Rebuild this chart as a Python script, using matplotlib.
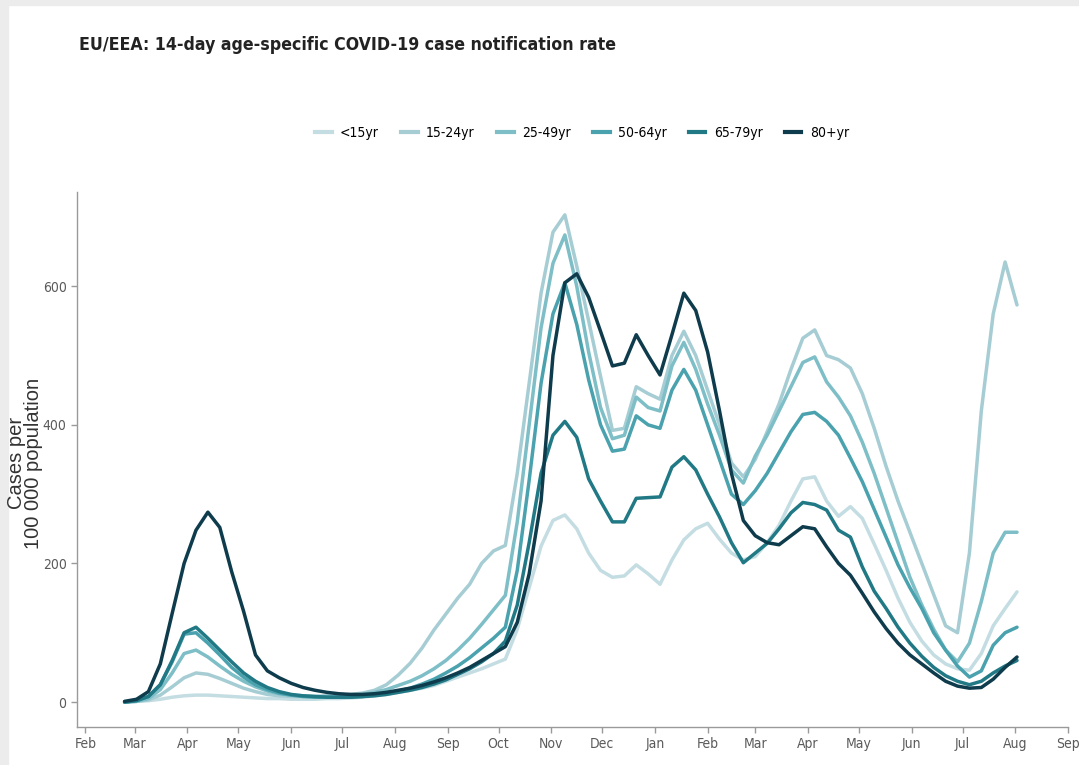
import matplotlib
matplotlib.use("Agg")
import matplotlib.pyplot as plt
import matplotlib.dates as mdates
from matplotlib.lines import Line2D
from matplotlib.patches import Rectangle
from matplotlib.font_manager import FontProperties, findfont
import pandas as pd

# weekly rates per 100 000, Mondays 2020-02-24 .. 2021-08-02
weeks = pd.date_range("2020-02-24", "2021-08-02", freq="7D")

age_groups = ["<15yr", "15-24yr", "25-49yr", "50-64yr", "65-79yr", "80+yr"]
colors = ["#c4dde2", "#a6cdd4", "#7dbec7", "#4aa2ae", "#217985", "#0e3c4c"]

rate_lt15 = [0, 1, 2, 4, 7, 9, 10, 10, 9, 8,
             7, 6, 5, 5, 4, 4, 4, 5, 5, 6,
             7, 9, 11, 14, 17, 20, 24, 30, 36, 42,
             48, 55, 62, 105, 165, 225, 262, 270, 250, 215,
             190, 180, 182, 198, 185, 170, 205, 234, 250, 258,
             235, 215, 205, 210, 230, 255, 290, 322, 325, 290,
             268, 282, 265, 228, 190, 150, 115, 88, 68, 55,
             48, 46, 70, 110, 135, 159]
rate_15_24 = [0, 1, 3, 10, 22, 35, 42, 40, 34, 27,
              20, 15, 11, 9, 8, 8, 8, 9, 10, 11,
              13, 17, 25, 39, 56, 78, 104, 127, 150, 170,
              200, 218, 226, 330, 460, 590, 678, 703, 629, 550,
              470, 392, 395, 455, 445, 437, 500, 535, 500, 450,
              400, 345, 325, 350, 390, 430, 480, 525, 537, 500,
              494, 482, 445, 395, 340, 290, 245, 200, 155, 110,
              100, 215, 420, 560, 635, 573]
rate_25_49 = [0, 1, 5, 18, 42, 70, 75, 65, 52, 40,
              30, 22, 16, 12, 10, 9, 8, 8, 8, 9,
              11, 14, 18, 24, 30, 38, 48, 60, 75, 92,
              112, 133, 154, 260, 400, 540, 633, 674, 600, 505,
              425, 380, 385, 440, 425, 420, 485, 519, 480, 430,
              385, 335, 316, 355, 385, 420, 455, 490, 498, 462,
              440, 413, 375, 330, 280, 230, 180, 140, 105, 75,
              58, 85, 145, 215, 245, 245]
rate_50_64 = [0, 2, 8, 25, 58, 98, 100, 85, 68, 50,
              36, 25, 18, 13, 10, 8, 7, 7, 7, 7,
              8, 10, 12, 16, 20, 26, 33, 42, 52, 64,
              78, 92, 108, 190, 320, 460, 560, 605, 545, 465,
              400, 362, 365, 413, 400, 395, 450, 480, 450, 400,
              350, 300, 285, 305, 330, 360, 390, 415, 418, 405,
              385, 352, 318, 278, 238, 198, 165, 135, 100, 75,
              52, 36, 45, 82, 100, 108]
rate_65_79 = [0, 2, 8, 25, 60, 100, 108, 92, 75, 58,
              42, 30, 21, 15, 11, 9, 8, 7, 7, 7,
              8, 9, 11, 14, 17, 21, 26, 32, 40, 48,
              58, 70, 88, 140, 230, 330, 385, 405, 382, 322,
              290, 260, 260, 294, 295, 296, 339, 354, 335, 300,
              267, 230, 201, 215, 229, 250, 273, 288, 285, 277,
              248, 238, 195, 160, 135, 108, 85, 66, 50, 38,
              30, 25, 30, 42, 52, 60]
rate_80plus = [1, 4, 15, 55, 128, 200, 248, 274, 252, 188,
               131, 68, 45, 35, 27, 21, 17, 14, 12, 11,
               11, 12, 14, 17, 20, 24, 29, 35, 42, 50,
               60, 70, 80, 115, 185, 290, 500, 605, 618, 584,
               535, 485, 489, 530, 500, 472, 530, 590, 565, 505,
               420, 330, 262, 240, 230, 227, 240, 253, 250, 224,
               200, 183, 157, 130, 106, 85, 68, 55, 42, 30,
               23, 20, 21, 33, 50, 65]

series = [rate_lt15, rate_15_24, rate_25_49, rate_50_64, rate_65_79, rate_80plus]

# narrow face for the ggplot-ish labels; fall back to Liberation Sans if no condensed face
cond_fp = FontProperties(family="DejaVu Sans", stretch="condensed")
if "Condensed" in findfont(cond_fp):
    narrow = dict(family="DejaVu Sans", stretch="condensed")
else:
    narrow = dict(family="Liberation Sans")
grey = "#5a5a5a"

fig = plt.figure(figsize=(10.79, 7.65), dpi=100)
# screenshot border
fig.patches.append(Rectangle((0, 0), 8 / 1079, 1, transform=fig.transFigure, color="#ececec", zorder=0))
fig.patches.append(Rectangle((0, 1 - 5 / 765), 1, 5 / 765, transform=fig.transFigure, color="#ececec", zorder=0))

ax = fig.add_axes([77 / 1079, 1 - 727 / 765, (1068 - 77) / 1079, (727 - 192) / 765])
for vals, col in zip(series, colors):
    ax.plot(weeks, vals, color=col, lw=2.5, solid_joinstyle="round", solid_capstyle="round")

ax.set_xlim(pd.Timestamp("2020-01-27"), pd.Timestamp("2021-09-01"))
ax.set_ylim(-36, 736)
ax.set_yticks([0, 200, 400, 600])
ax.xaxis.set_major_locator(mdates.MonthLocator())
ax.xaxis.set_major_formatter(mdates.DateFormatter("%b"))
for s in ["top", "right"]:
    ax.spines[s].set_visible(False)
for s in ["left", "bottom"]:
    ax.spines[s].set_color("#9a9a9a")
    ax.spines[s].set_linewidth(1.0)
ax.tick_params(colors="#9a9a9a", length=4, width=1.0, labelcolor=grey, labelsize=10)
for lab in ax.get_xticklabels() + ax.get_yticklabels():
    lab.set(**narrow)

fig.text(79 / 1079, 1 - 45 / 765, "EU/EEA: 14-day age-specific COVID-19 case notification rate",
         weight="bold", fontsize=12.7, color="#222222", va="center", ha="left", **narrow)
fig.text(25 / 1079, 1 - 463 / 765, "Cases per\n100 000 population", family=["Liberation Sans", "DejaVu Sans"],
         fontsize=14.5, color="#333333", rotation=90, ha="center", va="center", multialignment="center",
         linespacing=0.9)

handles = [Line2D([], [], color=c, lw=3) for c in colors]
leg_prop = FontProperties(size=10, **narrow)
fig.legend(handles, age_groups, loc="center", bbox_to_anchor=(582 / 1079, 1 - 133 / 765), ncol=6,
           frameon=False, handlelength=1.2, columnspacing=1.6, handletextpad=0.6, prop=leg_prop)

fig.savefig("out.png", dpi=100)
